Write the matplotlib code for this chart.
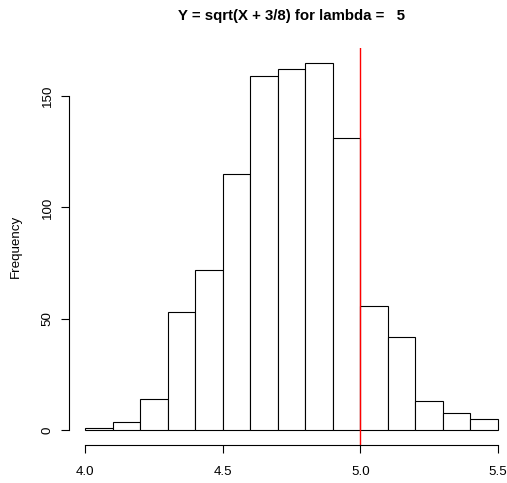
import numpy as np
import matplotlib
matplotlib.use('Agg')
import matplotlib.pyplot as plt

# histogram of sqrt(X + 3/8), X ~ Poisson(5), 1000 draws
bin_edges = [4.0, 4.1, 4.2, 4.3, 4.4, 4.5, 4.6, 4.7, 4.8, 4.9, 5.0, 5.1, 5.2, 5.3, 5.4, 5.5]
counts = [1, 4, 14, 53, 72, 115, 159, 162, 165, 131, 56, 42, 13, 8, 5]
lam = 5
x_ticks = [4.0, 4.5, 5.0, 5.5]
y_ticks = [0, 50, 100, 150]

plt.rcParams['font.family'] = ['Liberation Sans', 'DejaVu Sans']

W, H = 507, 483
fig = plt.figure(figsize=(W / 100, H / 100), dpi=100)

# R-style plot region: usr extends 4% past data range
x0, x1 = bin_edges[0], bin_edges[-1]
xpad = (x1 - x0) * 0.04
ymax = max(counts)
ypad = ymax * 0.04
px_left, px_right = 68.8, 514.5
px_top, px_bottom = 47.8, 445.2
ax = fig.add_axes([px_left / W, 1 - px_bottom / H,
                   (px_right - px_left) / W, (px_bottom - px_top) / H])
ax.set_xlim(x0 - xpad, x1 + xpad)
ax.set_ylim(-ypad, ymax + ypad)

widths = np.diff(bin_edges)
ax.bar(bin_edges[:-1], counts, width=widths, align='edge',
       facecolor='white', edgecolor='black', linewidth=0.8)
ax.axvline(lam, color='red', linewidth=1)

for s in ['top', 'right']:
    ax.spines[s].set_visible(False)
ax.spines['bottom'].set_bounds(x_ticks[0], x_ticks[-1])
ax.spines['left'].set_bounds(y_ticks[0], y_ticks[-1])
for s in ['bottom', 'left']:
    ax.spines[s].set_linewidth(0.8)

ax.set_xticks(x_ticks)
ax.set_xticklabels([f'{t:.1f}' for t in x_ticks])
ax.set_yticks(y_ticks)
ax.set_yticklabels([str(t) for t in y_ticks], rotation=90, va='center')
ax.tick_params(axis='both', direction='out', length=5.8, width=0.8,
               labelsize=9.6, colors='black')
ax.tick_params(axis='x', pad=9.5)
ax.tick_params(axis='y', pad=5)

ax.set_ylabel('Frequency', fontsize=9.6, labelpad=14)
ax.set_title(f'Y = sqrt(X + 3/8) for lambda =   {lam}', fontsize=10.8,
             fontweight='bold', pad=20)

fig.savefig('out.png', dpi=100)
